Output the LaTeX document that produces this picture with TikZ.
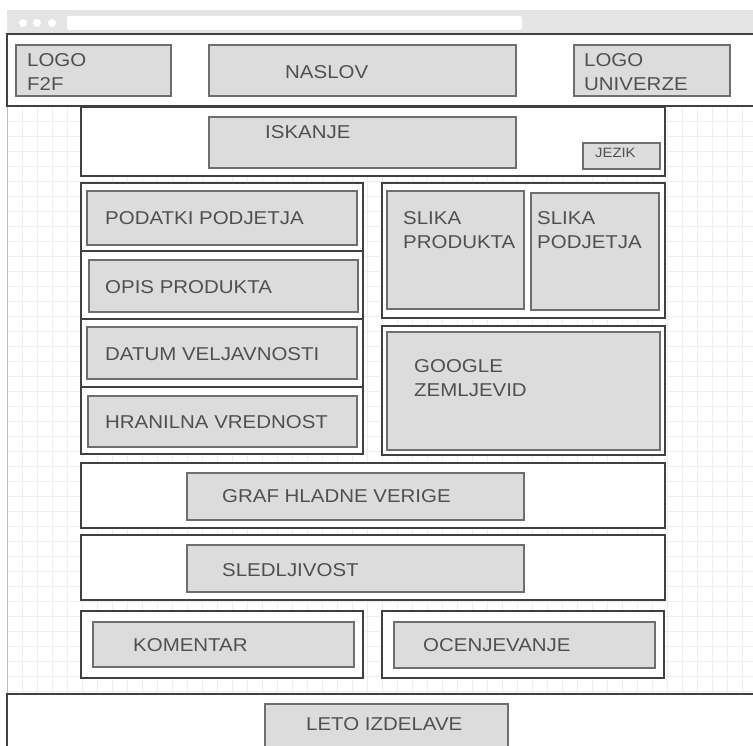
\documentclass[tikz,border=0pt]{standalone}
\usepackage{fontspec}
\setmainfont{Liberation Sans}[FakeStretch=1.1]
\definecolor{txt}{HTML}{505050}
\definecolor{outerc}{HTML}{404040}
\definecolor{innerc}{HTML}{6E6E6E}
\definecolor{innerf}{HTML}{DCDCDC}
\definecolor{gridc}{HTML}{EEEEEE}
\definecolor{chrome}{HTML}{E4E4E4}
\tikzset{
  outerbox/.style={draw=outerc, line width=2.2pt, fill=white},
  innerbox/.style={draw=innerc, line width=1.2pt, fill=innerf},
  lbl/.style={text=txt, inner sep=0pt, anchor=west, font=\fontsize{18.6}{24}\selectfont},
  lbl2/.style={text=txt, inner sep=0pt, anchor=north west, align=left, font=\fontsize{18.6}{24}\selectfont},
  small/.style={text=txt, inner sep=0pt, anchor=west, font=\fontsize{13.5}{15}\selectfont},
}
\begin{document}
\begin{tikzpicture}[x=1pt,y=-1pt]
\useasboundingbox (0,0) rectangle (753,746);
\fill[white] (0,0) rectangle (753,746);
% browser chrome
\fill[chrome] (7,10) rectangle (753,34);
\foreach \cx in {23,37,52} \fill[white] (\cx,23) circle (4);
\fill[white,rounded corners=2pt] (67,16) rectangle (522,30);
% grid area
\foreach \gx in {22,37,...,752} \draw[gridc, line width=0.6pt] (\gx,106) -- (\gx,694);
\foreach \gy in {121,136,...,693} \draw[gridc, line width=0.6pt] (7,\gy) -- (753,\gy);
\draw[gridc!80!black, line width=0.8pt] (7,106) -- (7,694);
% header
\path[outerbox] (7,34) rectangle (760,106);
\path[innerbox] (16,45) rectangle (171,96);
\node[lbl2] (logof) at (27,53) {LOGO\\F2F};
\path[innerbox] (209,45) rectangle (516,96);
\node[lbl] (naslov) at (285,72) {NASLOV};
\path[innerbox] (574,45) rectangle (730,96);
\node[lbl2] (logou) at (584,53) {LOGO\\UNIVERZE};
% search
\path[outerbox] (81,107) rectangle (665,176);
\path[innerbox] (209,117) rectangle (516,168);
\node[lbl] (iskanje) at (265,132) {ISKANJE};
\path[innerbox] (583,143) rectangle (660,169);
\node[small] (jezik) at (595,153) {JEZIK};
% left column
\path[outerbox] (81,183) rectangle (363,251);
\path[innerbox] (87,191) rectangle (357,245);
\node[lbl] (podatki) at (105,218) {PODATKI PODJETJA};
\path[outerbox] (81,251) rectangle (363,319);
\path[innerbox] (89,260) rectangle (358,312);
\node[lbl] (opis) at (105,287) {OPIS PRODUKTA};
\path[outerbox] (81,319) rectangle (363,387);
\path[innerbox] (87,327) rectangle (357,379);
\node[lbl] (datum) at (105,354) {DATUM VELJAVNOSTI};
\path[outerbox] (81,387) rectangle (363,454);
\path[innerbox] (88,396) rectangle (357,447);
\node[lbl] (hranilna) at (105,422) {HRANILNA VREDNOST};
% right column
\path[outerbox] (382,183) rectangle (665,318);
\path[innerbox] (387,191) rectangle (524,309);
\node[lbl2] (slikap) at (403,211) {SLIKA\\PRODUKTA};
\path[innerbox] (531,193) rectangle (659,310);
\node[lbl2] (slikapo) at (537,211) {SLIKA\\PODJETJA};
\path[outerbox] (382,326) rectangle (665,455);
\path[innerbox] (387,332) rectangle (660,450);
\node[lbl2] (google) at (414,359) {GOOGLE\\ZEMLJEVID};
% graf
\path[outerbox] (81,463) rectangle (665,528);
\path[innerbox] (187,473) rectangle (524,520);
\node[lbl] (graf) at (222,496) {GRAF HLADNE VERIGE};
% sledljivost
\path[outerbox] (81,535) rectangle (665,600);
\path[innerbox] (187,545) rectangle (524,592);
\node[lbl] (sled) at (222,570) {SLEDLJIVOST};
% komentar / ocenjevanje
\path[outerbox] (81,611) rectangle (363,678);
\path[innerbox] (93,622) rectangle (354,667);
\node[lbl] (kom) at (133,645) {KOMENTAR};
\path[outerbox] (382,611) rectangle (664,678);
\path[innerbox] (394,622) rectangle (655,668);
\node[lbl] (ocen) at (423,645) {OCENJEVANJE};
% footer
\path[outerbox] (7,694) rectangle (760,760);
\path[innerbox] (265,704) rectangle (508,760);
\node[lbl] (leto) at (306,724) {LETO IZDELAVE};
\end{tikzpicture}
\end{document}
